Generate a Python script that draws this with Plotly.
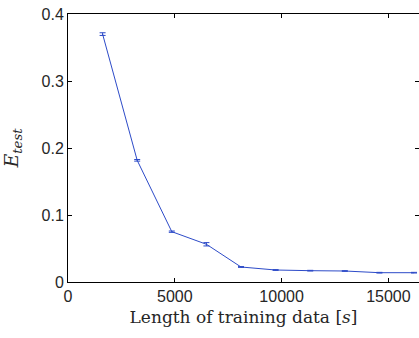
import plotly.graph_objects as go

train_len = [1620, 3240, 4860, 6480, 8100, 9720, 11340, 12960, 14580, 16200]
e_test = [0.370, 0.1816, 0.0751, 0.0563, 0.0224, 0.0179, 0.0169, 0.0164, 0.0139, 0.0139]
e_err = [0.002, 0.0012, 0.001, 0.0025, 0.0006, 0.0006, 0.0005, 0.0005, 0.0005, 0.0005]
x_ticks = [0, 5000, 10000, 15000]
y_ticks = [0, 0.1, 0.2, 0.3, 0.4]

blue = "rgb(45,75,200)"
fig = go.Figure()
fig.add_trace(go.Scatter(
    x=train_len, y=e_test, mode="lines",
    line=dict(color=blue, width=1),
    error_y=dict(type="data", array=e_err, color=blue, thickness=1, width=3),
    showlegend=False, hoverinfo="skip"))
fig.add_trace(go.Scatter(
    x=train_len, y=e_test, mode="lines", yaxis="y2",
    line=dict(color="rgba(0,0,0,0)", width=0),
    showlegend=False, hoverinfo="skip"))

tickfont = dict(family="Liberation Sans, Arial, sans-serif", size=16, color="#262626")
fig.update_layout(
    width=419, height=338,
    margin=dict(l=68, r=0, t=14, b=56),
    paper_bgcolor="white", plot_bgcolor="white",
    xaxis=dict(range=[0, 16433], tickvals=x_ticks, ticktext=[str(v) for v in x_ticks],
               ticks="inside", ticklen=4, tickcolor="black", showline=True,
               linecolor="black", linewidth=1, mirror="ticks", showgrid=False,
               zeroline=False, tickfont=tickfont,
               title=dict(text="Length of training data [<i>s</i>]",
                          font=dict(family="DejaVu Serif, Liberation Serif, serif", size=17, color="#262626"),
                          standoff=6)),
    yaxis=dict(range=[0, 0.4], tickvals=y_ticks, ticktext=["0", "0.1", "0.2", "0.3", "0.4"],
               ticks="inside", ticklen=4, tickcolor="black", showline=True,
               linecolor="black", linewidth=1, showgrid=False, zeroline=False,
               tickfont=tickfont,
               title=dict(text="<i>E</i><sub><i>test</i></sub>",
                          font=dict(family="DejaVu Serif, Liberation Serif, serif", size=19, color="#262626"),
                          standoff=18)),
    yaxis2=dict(range=[0, 0.4], tickvals=y_ticks, overlaying="y", side="right",
                anchor="x", ticks="inside", ticklen=4, tickcolor="black",
                showline=False, showgrid=False, zeroline=False, showticklabels=False),
)
fig.write_html("out.html")
